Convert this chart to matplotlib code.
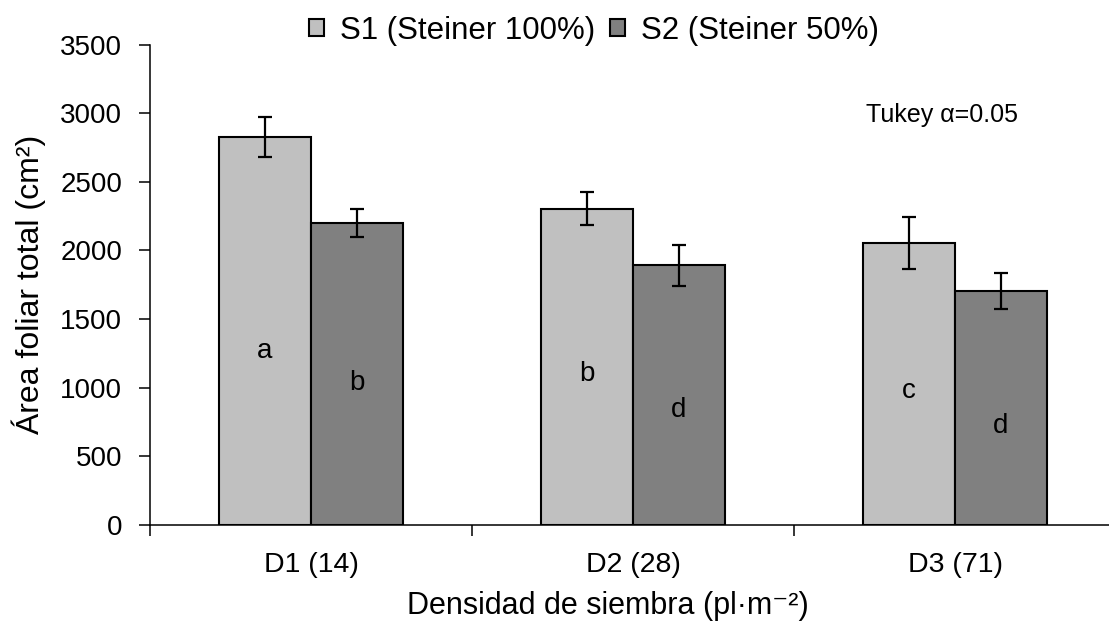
import matplotlib
matplotlib.use("Agg")
import matplotlib.pyplot as plt
import numpy as np

plt.rcParams['font.family'] = ['Liberation Sans', 'DejaVu Sans']

categories = ["D1 (14)", "D2 (28)", "D3 (71)"]
series_names = ["S1 (Steiner 100%)", "S2 (Steiner 50%)"]
s1_values = [2825, 2305, 2052]
s2_values = [2198, 1891, 1702]
s1_err = [146, 123, 190]
s2_err = [102, 152, 130]
s1_letters = ["a", "b", "c"]
s2_letters = ["b", "d", "d"]
# heights (data units) at which the Tukey group letters sit inside the bars
s1_letter_y = [1270, 1100, 975]
s2_letter_y = [1030, 840, 720]

colors = ["#c0c0c0", "#808080"]

fig = plt.figure(figsize=(11.09, 6.27), dpi=100)
ax = fig.add_axes([150 / 1109, (627 - 524.7) / 627, 966 / 1109, 480 / 627])

x = np.arange(len(categories))
w = 0.286

ax.bar(x - w / 2, s1_values, w, color=colors[0], edgecolor="black", linewidth=1.5,
       label=series_names[0], zorder=2)
ax.bar(x + w / 2, s2_values, w, color=colors[1], edgecolor="black", linewidth=1.5,
       label=series_names[1], zorder=2)
ax.errorbar(x - w / 2, s1_values, yerr=s1_err, fmt="none", ecolor="black",
            elinewidth=1.6, capsize=5, capthick=1.6, zorder=3)
ax.errorbar(x + w / 2, s2_values, yerr=s2_err, fmt="none", ecolor="black",
            elinewidth=1.6, capsize=5, capthick=1.6, zorder=3)

for i in range(len(categories)):
    ax.text(x[i] - w / 2, s1_letter_y[i], s1_letters[i], ha="center", va="center",
            fontsize=20, zorder=4)
    ax.text(x[i] + w / 2, s2_letter_y[i], s2_letters[i], ha="center", va="center",
            fontsize=20, zorder=4)

ax.text(1.96, 2988, "Tukey α=0.05", fontsize=18, ha="center", va="center")

ax.set_xlim(-0.5, 2.5)
ax.set_ylim(0, 3500)
ax.set_yticks(np.arange(0, 3501, 500))
ax.tick_params(axis="y", direction="out", length=8, width=1.1, labelsize=20, pad=12)

ax.set_xticks([-0.5, 0.5, 1.5, 2.5])
ax.set_xticklabels([])
ax.set_xticks(x, minor=True)
ax.set_xticklabels(categories, minor=True)
ax.tick_params(axis="x", which="major", direction="out", length=8, width=1.1)
ax.tick_params(axis="x", which="minor", length=0, labelsize=20.5, pad=20)

for side in ["top", "right"]:
    ax.spines[side].set_visible(False)
for side in ["left", "bottom"]:
    ax.spines[side].set_linewidth(1.1)

ax.set_ylabel("Área foliar total (cm²)", fontsize=23)
ax.yaxis.set_label_coords(-0.108, 0.5)
ax.set_xlabel("Densidad de siembra (pl·m⁻²)", fontsize=22)
ax.xaxis.set_label_coords((608 - 150) / 966, -0.138)

leg = ax.legend(loc="lower center", bbox_to_anchor=((594 - 150) / 966, 0.972), ncol=2,
                frameon=False, fontsize=22.5, handlelength=0.48, handleheight=0.48,
                handletextpad=0.5, columnspacing=0.5, borderaxespad=0)

fig.savefig("out.png", dpi=100)
